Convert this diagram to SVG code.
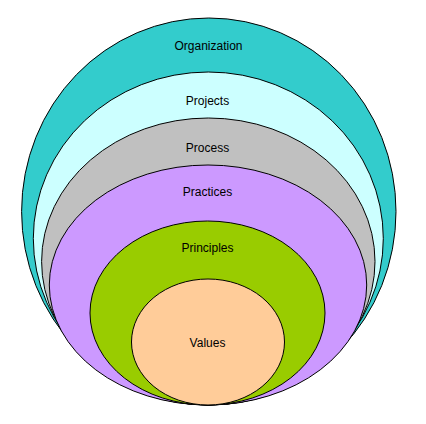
<svg xmlns="http://www.w3.org/2000/svg" width="426" height="424" viewBox="0 0 426 424">
<style>
.n ellipse{stroke:#000;stroke-width:1}
.n text{font-family:"Liberation Sans",Arial,sans-serif;font-size:12px;fill:#000;text-anchor:middle}
</style>
<rect width="426" height="424" fill="#fff"/>
<g id="organization" class="n"><ellipse cx="208.8" cy="211.5" rx="187.2" ry="193.5" fill="#33CCCC"/><text x="208.5" y="50.3">Organization</text></g>
<g id="projects" class="n"><ellipse cx="208.3" cy="238.5" rx="175" ry="166.5" fill="#CCFFFF"/><text x="207.5" y="105.3">Projects</text></g>
<g id="process" class="n"><ellipse cx="208.3" cy="261.5" rx="166.7" ry="143.5" fill="#C0C0C0"/><text x="207.5" y="152.3">Process</text></g>
<g id="practices" class="n"><ellipse cx="208" cy="285" rx="158.7" ry="120" fill="#CC99FF"/><text x="207.5" y="196.3">Practices</text></g>
<g id="principles" class="n"><ellipse cx="207.5" cy="313" rx="117.5" ry="92" fill="#99CC00"/><text x="207.5" y="252">Principles</text></g>
<g id="values" class="n"><ellipse cx="208" cy="342" rx="76.5" ry="63" fill="#FFCC99"/><text x="207.5" y="347">Values</text></g>
<g id="connectors"/>
</svg>
